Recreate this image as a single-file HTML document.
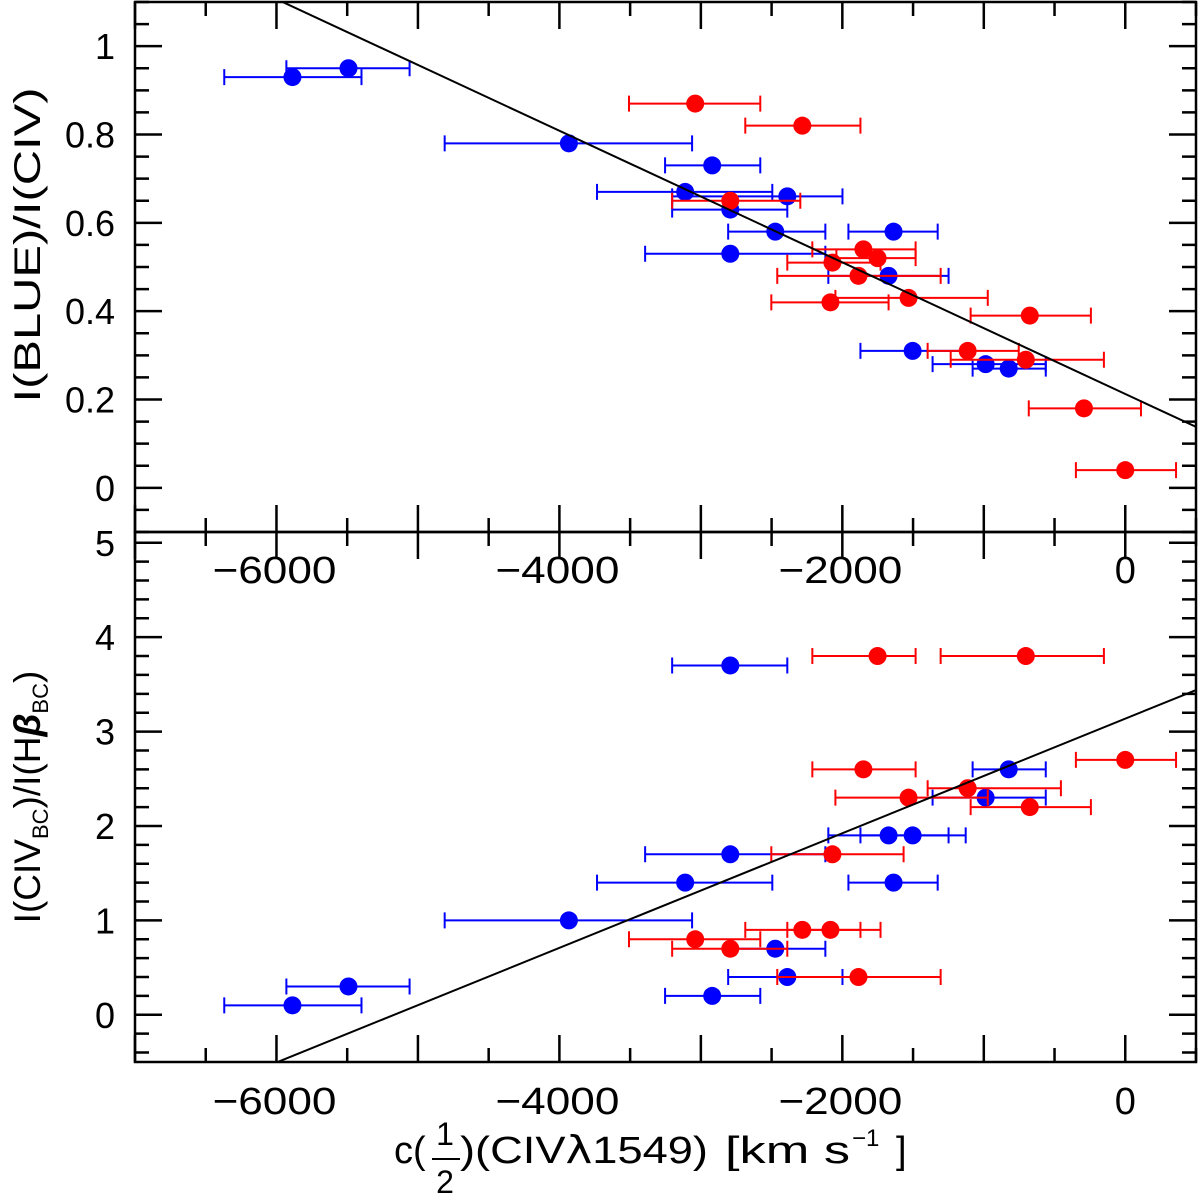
<!DOCTYPE html>
<html><head><meta charset="utf-8"><style>
html,body{margin:0;padding:0;background:#fff;width:1200px;height:1200px;overflow:hidden}
svg{display:block}
text{font-family:"Liberation Sans",sans-serif;fill:#000}
</style></head><body>
<svg id="chart" width="1200" height="1200" xmlns="http://www.w3.org/2000/svg">
<g id="marks"></g>
<g id="axes"></g>
<text transform="translate(40,245) rotate(-90)" text-anchor="middle" font-size="37" textLength="315" lengthAdjust="spacingAndGlyphs">I(BLUE)/I(CIV)</text>
<text transform="translate(40,797) rotate(-90)" text-anchor="middle" font-size="37">I(CIV<tspan font-size="22" dy="8">BC</tspan><tspan dy="-8">)/I(H</tspan><tspan font-weight="bold" font-style="italic">β</tspan><tspan font-size="22" dy="8">BC</tspan><tspan dy="-8">)</tspan></text>
<g>
<text x="394" y="1163" font-size="38">c(</text>
<text x="445" y="1145" font-size="32" text-anchor="middle">1</text>
<line x1="432" y1="1159" x2="460" y2="1159" stroke="#000" stroke-width="2"/>
<text x="445" y="1193" font-size="32" text-anchor="middle">2</text>
<text x="460" y="1163" font-size="38" textLength="248" lengthAdjust="spacingAndGlyphs">)(CIV<tspan font-family="DejaVu Sans">λ</tspan>1549)</text>
<text x="725" y="1163" font-size="38" textLength="125" lengthAdjust="spacingAndGlyphs">[km  s</text>
<text x="852" y="1146" font-size="24">−1</text>
<text x="896" y="1163" font-size="38">]</text>
</g>
</svg>
<script>
// Top panel
const topBlueX=[-5887,-5491,-3933,-2920,-3111,-2389,-2792,-2474,-1638,-2792,-1673,-1503,-987,-824];
const topBlueY=[0.93,0.95,0.78,0.73,0.67,0.66,0.63,0.58,0.58,0.53,0.48,0.31,0.28,0.27];
const topBlueLo=[-6369,-5930,-4811,-3253,-3734,-3203,-3203,-2807,-1957,-3394,-2099,-1872,-1362,-1079];
const topBlueHi=[-5399,-5059,-3062,-2580,-2495,-1999,-2389,-2120,-1326,-2120,-1249,-1128,-562,-562];
const topRedX=[-3040,-2283,-2792,-1851,-1751,-2070,-1886,-1532,-2084,-675,-1114,-703,-292,0];
const topRedY=[0.87,0.82,0.65,0.54,0.52,0.51,0.48,0.43,0.42,0.39,0.31,0.29,0.18,0.04];
const topRedLo=[-3508,-2686,-3203,-2212,-2042,-2389,-2460,-2049,-2502,-1093,-1397,-1234,-682,-349];
const topRedHi=[-2580,-1872,-2297,-1482,-1482,-1730,-1305,-972,-1673,-243,-753,-151,111,359];
const topFit=[0.2125,-0.000149];
// Bottom panel
const botBlueX=[-5887,-5491,-3933,-3111,-2792,-2792,-2920,-2389,-2474,-1638,-1673,-1503,-987,-824];
const botBlueY=[0.1,0.3,1.0,1.4,1.7,3.7,0.2,0.4,0.7,1.4,1.9,1.9,2.3,2.6];
const botBlueLo=[-6369,-5930,-4811,-3734,-3394,-3203,-3253,-2807,-2807,-1957,-2099,-1872,-1362,-1079];
const botBlueHi=[-5399,-5059,-3062,-2495,-2120,-2389,-2580,-1999,-2120,-1326,-1249,-1128,-562,-562];
const botRedX=[-3040,-2792,-2283,-2084,-1886,-2070,-1851,-1532,-1751,-703,-1114,-675,0];
const botRedY=[0.8,0.7,0.9,0.9,0.4,1.7,2.6,2.3,3.8,3.8,2.4,2.2,2.7];
const botRedLo=[-3508,-3203,-2686,-2389,-2460,-2502,-2212,-2049,-2212,-1305,-1397,-1093,-349];
const botRedHi=[-2580,-2389,-1872,-1730,-1305,-1567,-1482,-972,-1482,-151,-455,-243,359];
const botFit=[3.137,0.000607];
const xTickLabels=[-6000,-4000,-2000,0];
const topYTickLabels=["0","0.2","0.4","0.6","0.8","1"];
const botYTickLabels=["0","1","2","3","4","5"];

const NS="http://www.w3.org/2000/svg";
const L=135,R=1196;
const X0=-7000,X1=500;
const sx=v=>L+(v-X0)/(X1-X0)*(R-L);
const topP={t:2,b:532,y0:-0.1,y1:1.1};
const botP={t:532,b:1062,y0:-0.5,y1:5.114};
const sy=(p,v)=>p.b-(v-p.y0)/(p.y1-p.y0)*(p.b-p.t);
const marks=document.getElementById('marks'),axes=document.getElementById('axes');
function mk(tag,attrs,parent){const e=document.createElementNS(NS,tag);for(const k in attrs)e.setAttribute(k,attrs[k]);parent.appendChild(e);return e;}

function series(p,xs,ys,lo,hi,color,name){
  const g=mk('g',{},marks);
  
  
  for(let i=0;i<xs.length;i++){
    const y=sy(p,ys[i]),a=sx(lo[i]),b=sx(hi[i]);
    const eb=mk('path',{d:`M${a},${y}H${b}M${a},${y-8}V${y+8}M${b},${y-8}V${y+8}`,stroke:color,'stroke-width':2,fill:'none'},g);
    
    
    const c=mk('circle',{cx:sx(xs[i]),cy:y,r:9,fill:color},g);
    
    
  }
}
function fit(p,f,name){
  const cid='clip'+name;
  const cp=mk('clipPath',{id:cid},marks);
  mk('rect',{x:L,y:p.t,width:R-L,height:p.b-p.t},cp);
  const ln=mk('line',{x1:sx(X0),y1:sy(p,f[0]+f[1]*X0),x2:sx(X1),y2:sy(p,f[0]+f[1]*X1),stroke:'#000','stroke-width':2,'clip-path':`url(#${cid})`},marks);
  
  
}
series(topP,topBlueX,topBlueY,topBlueLo,topBlueHi,'#0000ff','top-blue-series');
series(topP,topRedX,topRedY,topRedLo,topRedHi,'#ff0000','top-red-series');
series(botP,botBlueX,botBlueY,botBlueLo,botBlueHi,'#0000ff','bottom-blue-series');
series(botP,botRedX,botRedY,botRedLo,botRedHi,'#ff0000','bottom-red-series');
fit(topP,topFit,'top-fit-line');
fit(botP,botFit,'bottom-fit-line');

function frame(p,name,yMajor,yMinor,yLabels){
  const g=mk('g',{},axes);
  
  
  mk('rect',{x:L,y:p.t,width:R-L,height:p.b-p.t,fill:'none',stroke:'#000','stroke-width':2.5},g);
  let d='';
  for(let v=X0;v<=X1;v+=500){const x=sx(v),len=(v%1000===0)?27:14;d+=`M${x},${p.b}v${-len}M${x},${p.t}v${len}`;}
  for(let k=Math.ceil(p.y0/yMinor-1e-6);k*yMinor<=p.y1+1e-9;k++){const v=k*yMinor,y=sy(p,v);const maj=Math.abs(v/yMajor-Math.round(v/yMajor))<1e-6;const len=maj?27:14;d+=`M${L},${y}h${len}M${R},${y}h${-len}`;}
  mk('path',{d,stroke:'#000','stroke-width':2.5,fill:'none'},g);
  yLabels.forEach((s,i)=>{const t=mk('text',{x:115,y:sy(p,i*yMajor)+13,'text-anchor':'end','font-size':36},g);t.textContent=s;
    
    });
}
frame(topP,'top-panel',0.2,0.05,topYTickLabels);
frame(botP,'bottom-panel',1,0.2,botYTickLabels);
xTickLabels.forEach(v=>{
  const neg=v<0;
  const t=mk('text',{x:sx(v)+(neg?-2:0),y:583,'text-anchor':'middle','font-size':38},axes);t.textContent=neg?'−'+(-v):String(v);
  if(neg){t.setAttribute('textLength','124');t.setAttribute('lengthAdjust','spacingAndGlyphs');}
  
  
  const t2=mk('text',{x:sx(v)+(neg?-2:0),y:1114,'text-anchor':'middle','font-size':38},axes);t2.textContent=neg?'−'+(-v):String(v);
  if(neg){t2.setAttribute('textLength','124');t2.setAttribute('lengthAdjust','spacingAndGlyphs');}
  
  
});
</script>
</body></html>
